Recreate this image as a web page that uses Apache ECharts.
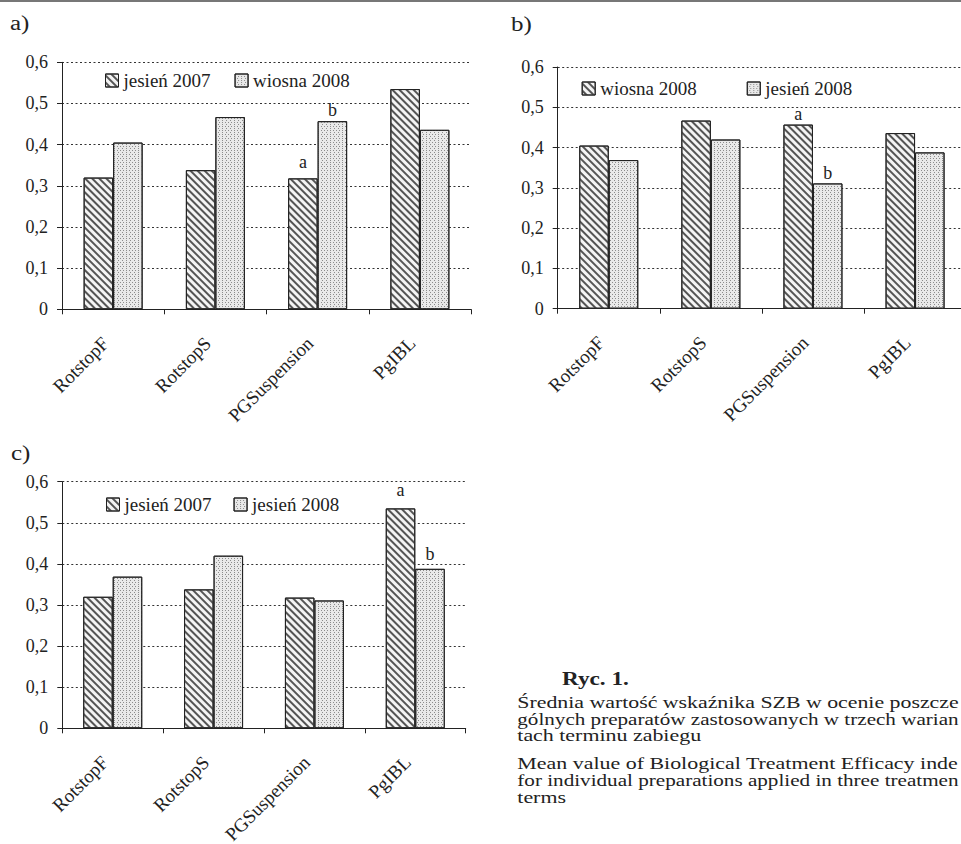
<!DOCTYPE html>
<html><head><meta charset="utf-8">
<script src="https://cdn.jsdelivr.net/npm/echarts@6/dist/echarts.min.js"></script>
<style>
html,body{margin:0;padding:0;width:961px;height:844px;overflow:hidden;background:#fff;}
#page{position:relative;width:961px;height:844px;overflow:hidden;}
#bg{position:absolute;left:0;top:0;width:961px;height:844px;}
#pa{position:absolute;left:0;top:0;width:480px;height:440px;}
#pb{position:absolute;left:480px;top:0;width:500px;height:440px;}
#pc{position:absolute;left:0;top:424px;width:480px;height:420px;}
</style></head><body>
<div id="page"><div id="bg"></div><div id="pa"></div><div id="pb"></div><div id="pc"></div></div>
<script>
// ---- data ----
const categories = ['RotstopF', 'RotstopS', 'PGSuspension', 'PgIBL'];
const jesien2007 = [0.320, 0.338, 0.318, 0.535];
const wiosna2008 = [0.405, 0.467, 0.457, 0.436];
const jesien2008 = [0.369, 0.420, 0.311, 0.388];
const yTickLabels = ['0', '0,1', '0,2', '0,3', '0,4', '0,5', '0,6'];
const panelLetters = ['a)', 'b)', 'c)'];
// significance letters (per series, per category)
const notesA1 = [null, null, 'a', null];
const notesA2 = [null, null, 'b', null];
const notesB1 = [null, null, 'a', null];
const notesB2 = [null, null, 'b', null];
const notesC1 = [null, null, null, 'a'];
const notesC2 = [null, null, null, 'b'];
const captionTitle = 'Ryc. 1.';
const captionLines = [
  'Średnia wartość wskaźnika SZB w ocenie poszcze',
  'gólnych preparatów zastosowanych w trzech warian',
  'tach terminu zabiegu',
  'Mean value of Biological Treatment Efficacy inde',
  'for individual preparations applied in three treatmen',
  'terms'
];
const captionJustified = [true, true, false, true, true, false];

// ---- styles ----
const FAMILY = 'Liberation Serif';
const INK = '#222';
function hatched() {
  return { color: '#f4f4f4', borderColor: INK, borderWidth: 1,
    decal: { symbol: 'rect', symbolSize: 1, dashArrayX: [1, 0], dashArrayY: [2, 2.4], rotation: Math.PI / 4, color: '#555' } };
}
function dotted() {
  return { color: '#e9e9e9', borderColor: INK, borderWidth: 1,
    decal: { symbol: 'rect', symbolSize: 1, dashArrayX: [[1, 2], [0, 1.5, 1, 0.5]], dashArrayY: [1, 0.6], rotation: 0, color: '#8c8c8c' } };
}
function withNotes(values, notes, distance) {
  return values.map((v, i) => notes[i] ? {
    value: v,
    label: { show: true, position: 'top', distance: distance, formatter: notes[i], fontFamily: FAMILY, fontSize: 18, color: INK }
  } : v);
}

function panelOption(cfg) {
  return {
    animation: false,
    grid: Object.assign({ containLabel: false, outerBoundsMode: 'none' }, cfg.grid),
    legend: {
      left: cfg.legend.left, top: cfg.legend.top, itemGap: cfg.legend.gap, padding: 0,
      itemWidth: 13, itemHeight: 13, icon: 'rect', selectedMode: false,
      textStyle: { fontFamily: FAMILY, fontSize: 19, color: INK },
      data: [
        { name: cfg.names[0], itemStyle: hatched() },
        { name: cfg.names[1], itemStyle: dotted() }
      ]
    },
    xAxis: {
      type: 'category', data: categories,
      axisLine: { lineStyle: { color: INK, width: 1 } },
      axisTick: { show: true, length: 5, lineStyle: { color: INK } },
      axisLabel: { interval: 0, rotate: 45, margin: 23, padding: [0, 11, 0, 0],
        fontFamily: FAMILY, fontSize: 19, color: INK }
    },
    yAxis: {
      type: 'value', min: 0, max: 0.6, interval: 0.1,
      axisLine: { show: true, lineStyle: { color: INK, width: 1 } },
      axisTick: { show: true, length: 5, lineStyle: { color: INK } },
      axisLabel: { margin: 14, fontFamily: FAMILY, fontSize: 18, color: INK,
        formatter: v => yTickLabels[Math.round(v * 10)] },
      splitLine: { show: true, lineStyle: { color: '#333', type: [2, 2.5], width: 1 } }
    },
    series: [
      { name: cfg.names[0], type: 'bar', barWidth: 29.5, barGap: '0%',
        itemStyle: hatched(), data: withNotes(cfg.data[0], cfg.notes[0], cfg.dist[0]) },
      { name: cfg.names[1], type: 'bar', barWidth: 29.5, barGap: '0%',
        itemStyle: dotted(), data: withNotes(cfg.data[1], cfg.notes[1], cfg.dist[1]) }
    ]
  };
}

const opts = { renderer: 'svg' };
echarts.init(document.getElementById('pa'), null, opts).setOption(panelOption({
  grid: { left: 62, top: 62.3, width: 409, height: 247 },
  legend: { left: 105, top: 71, gap: 24 },
  names: ['jesień 2007', 'wiosna 2008'],
  data: [jesien2007, wiosna2008], notes: [notesA1, notesA2], dist: [7, 2]
}));
echarts.init(document.getElementById('pb'), null, opts).setOption(panelOption({
  grid: { left: 77.7, top: 67, width: 408.4, height: 241.7 },
  legend: { left: 101.7, top: 79, gap: 50 },
  names: ['wiosna 2008', 'jesień 2008'],
  data: [wiosna2008, jesien2008], notes: [notesB1, notesB2], dist: [2, 1]
}));
echarts.init(document.getElementById('pc'), null, opts).setOption(panelOption({
  grid: { left: 62.3, top: 57.7, width: 403.4, height: 246.6 },
  legend: { left: 106, top: 71, gap: 22 },
  names: ['jesień 2007', 'jesień 2008'],
  data: [jesien2007, jesien2008], notes: [notesC1, notesC2], dist: [9, 6]
}));

// ---- page furniture: rule, panel letters, caption ----
const measureCtx = document.createElement('canvas').getContext('2d');
function textWidth(s, font) { measureCtx.font = font; return measureCtx.measureText(s).width; }
function txt(s, x, y, font, sx) {
  return { type: 'text', x: x, y: y, scaleX: sx, silent: true,
    style: { text: s, font: font, fill: INK, textVerticalAlign: 'middle', verticalAlign: 'middle' } };
}
const letterPos = [[10, 23], [511, 24], [11, 453]];
const g = [{ type: 'rect', silent: true, shape: { x: 0, y: 0, width: 961, height: 2 }, style: { fill: '#777' } }];
panelLetters.forEach((s, i) => g.push(txt(s, letterPos[i][0], letterPos[i][1], '20px ' + FAMILY, 1.25)));
g.push(txt(captionTitle, 562, 679, 'bold 18px ' + FAMILY, 1.29));
const capY = [702, 719, 735, 763, 780, 797];
const capX = 517.3, capRight = 959;
const capFont = '17px ' + FAMILY;
captionLines.forEach((s, i) => {
  const sx = captionJustified[i] ? (capRight - capX) / textWidth(s, capFont) : 1.29;
  g.push(txt(s, capX, capY[i], capFont, sx));
});
echarts.init(document.getElementById('bg'), null, opts).setOption({ animation: false, graphic: g });
</script>
</body></html>
